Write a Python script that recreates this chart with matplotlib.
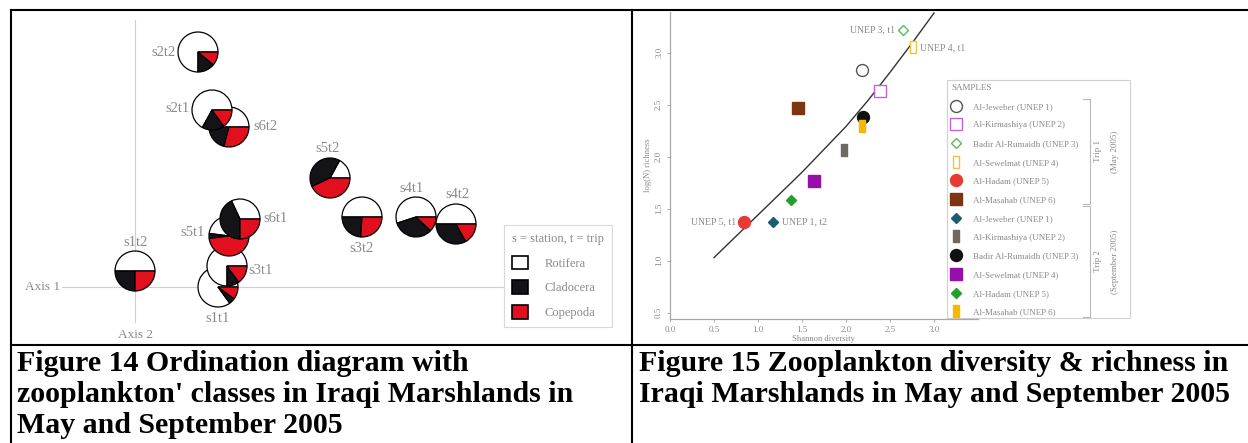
import numpy as np
import matplotlib.pyplot as plt
from matplotlib.patches import Patch, Rectangle

plt.rcParams['font.family'] = ['Liberation Serif', 'DejaVu Serif']

# Figure 14 - ordination scores and class fractions
samples = ['s1t1', 's1t2', 's2t1', 's2t2', 's3t1', 's3t2',
           's4t1', 's4t2', 's5t1', 's5t2', 's6t1', 's6t2']
axis1 = [0.83, 0.00, 0.77, 0.63, 0.92, 2.27, 2.81, 3.21, 0.94, 1.95, 1.05, 0.94]
axis2 = [0.00, 0.16, 1.77, 2.35, 0.21, 0.70, 0.70, 0.63, 0.51, 1.09, 0.68, 1.60]
rotifera = [0.85, 0.50, 0.67, 0.75, 0.75, 0.50, 0.55, 0.50, 0.48, 0.17, 0.32, 0.50]
cladocera = [0.05, 0.25, 0.18, 0.14, 0.10, 0.24, 0.33, 0.33, 0.04, 0.40, 0.43, 0.21]
copepoda = [0.10, 0.25, 0.15, 0.11, 0.15, 0.26, 0.12, 0.17, 0.48, 0.43, 0.25, 0.29]
classes = ['Rotifera', 'Cladocera', 'Copepoda']
# order the pies are stacked in (later ones on top)
draw_order = ['s1t1', 's1t2', 's6t2', 's2t1', 's2t2', 's3t1', 's3t2',
              's4t1', 's4t2', 's5t1', 's5t2', 's6t1']

# Figure 15 - diversity vs richness
sites = ['Al-Jeweber (UNEP 1)', 'Al-Kirmashiya (UNEP 2)', 'Badir Al-Rumaidh (UNEP 3)',
         'Al-Sewelmat (UNEP 4)', 'Al-Hadam (UNEP 5)', 'Al-Masahab (UNEP 6)']
shannon_t1 = [2.18, 2.39, 2.65, 2.76, 0.84, 1.45]
richness_t1 = [2.83, 2.63, 3.22, 3.05, 1.37, 2.47]
shannon_t2 = [1.17, 1.98, 2.19, 1.64, 1.37, 2.18]
richness_t2 = [1.37, 2.06, 2.38, 1.77, 1.58, 2.29]
fit_x = [0.5, 0.75, 1.0, 1.25, 1.5, 1.75, 2.0, 2.25, 2.5, 2.75, 3.0]
fit_y = [1.03, 1.235, 1.44, 1.645, 1.85, 2.07, 2.29, 2.54, 2.81, 3.09, 3.38]

caption14 = ['Figure 14 Ordination diagram with',
             "zooplankton' classes in Iraqi Marshlands in",
             'May and September 2005']
caption15 = ['Figure 15 Zooplankton diversity & richness in',
             'Iraqi Marshlands in May and September 2005']

grey = '#8a8a8a'
pie_cols = ['white', '#141418', '#e2101e']

fig = plt.figure(figsize=(12.48, 4.43), dpi=100)

# page axes in pixel units (table lines, captions)
page = fig.add_axes([0, 0, 1, 1])
page.set_xlim(0, 1248)
page.set_ylim(443, 0)
page.axis('off')
lw = 1.5
page.plot([11, 1248], [10, 10], color='black', lw=lw)
page.plot([11, 1248], [345, 345], color='black', lw=lw)
page.plot([11, 11], [10, 443], color='black', lw=lw)
page.plot([632, 632], [10, 443], color='black', lw=lw)
for i, s in enumerate(caption14):
    page.text(17, 371 + 31 * i, s, fontsize=21.5, fontweight='bold', va='baseline', ha='left')
for i, s in enumerate(caption15):
    page.text(639, 371 + 31 * i, s, fontsize=21.5, fontweight='bold', va='baseline', ha='left')

# ---- Figure 14 ----
ax1 = fig.add_axes([11 / 1248, (443 - 345) / 443, 621 / 1248, 335 / 443])
ax1.plot([-0.73, 3.69], [0, 0], color='#d0d0d0', lw=0.8, zorder=0)
ax1.plot([0, 0], [-0.35, 2.67], color='#d0d0d0', lw=0.8, zorder=0)
ax1.text(-0.75, 0, 'Axis 1', color=grey, fontsize=9.5, ha='right', va='center')
ax1.text(0, -0.48, 'Axis 2', color=grey, fontsize=9.5, ha='center', va='center')

lab_off = {'s1t1': (0, -31, 'center'), 's1t2': (0, 28, 'center'),
           's2t1': (-22, 1, 'right'), 's2t2': (-22, 0, 'right'),
           's3t1': (21, -4, 'left'), 's3t2': (0, -32, 'center'),
           's4t1': (-5, 29, 'center'), 's4t2': (1, 29, 'center'),
           's5t1': (-24, 3, 'right'), 's5t2': (-2, 29, 'center'),
           's6t1': (23, 0, 'left'), 's6t2': (24, 0, 'left')}

for name in draw_order:
    i = samples.index(name)
    ax1.pie([rotifera[i], cladocera[i], copepoda[i]], colors=pie_cols,
            center=(axis1[i], axis2[i]), radius=0.2, startangle=0,
            counterclock=True, frame=True,
            wedgeprops=dict(edgecolor='black', linewidth=0.9))
    dx, dy, ha = lab_off[name]
    ax1.annotate(name, (axis1[i], axis2[i]), xytext=(dx, dy), textcoords='offset pixels',
                 ha=ha, va='center', color=grey, fontsize=10.5)

ax1.set_xlim(-1.24, 4.97)
ax1.set_ylim(-0.58, 2.77)
ax1.set_aspect('auto')
ax1.axis('off')

h14 = [Patch(facecolor=c, edgecolor='black', linewidth=1.2) for c in pie_cols]
leg1 = ax1.legend(h14, classes, title='s = station, t = trip', loc='upper left',
                  bbox_to_anchor=(504, 225), bbox_transform=page.transData,
                  borderaxespad=0, fancybox=False, edgecolor='#d0d0d0',
                  fontsize=9, title_fontsize=9,
                  handlelength=1.3, handleheight=1.3, labelspacing=0.85,
                  handletextpad=1.3, borderpad=0.65, alignment='left', labelcolor=grey)
leg1.get_title().set_color(grey)
leg1.get_frame().set_linewidth(0.8)

# ---- Figure 15 ----
ax2 = fig.add_axes([670 / 1248, (443 - 319) / 443, 308 / 1248, 307 / 443])
ax2.set_facecolor('none')
ax2.plot(fit_x, fit_y, color='#333333', lw=1.0, zorder=1)

rect = [(-0.27, -0.5), (0.27, -0.5), (0.27, 0.5), (-0.27, 0.5), (-0.27, -0.5)]
marks = ['o', 's', 'D', rect, 'o', 's']
sizes_t1 = [8.6, 8.6, 5.2, 8.0, 8.6, 8.6]
cols_t1 = ['#555555', '#c064d4', '#5fb85f', '#f2c23a', '#e83a34', '#7b3510']
filled_t1 = [False, False, False, False, True, True]
marks_t2 = ['D', rect, 'o', 's', 'D', rect]
sizes_t2 = [5.2, 8.0, 8.6, 8.6, 5.2, 8.0]
cols_t2 = ['#1b5c72', '#716860', '#111111', '#9510a8', '#22a12a', '#f6b800']

handles = []
for i in range(6):
    fc = cols_t1[i] if filled_t1[i] else 'white'
    h, = ax2.plot(shannon_t1[i], richness_t1[i], linestyle='none', marker=marks[i],
                  markersize=sizes_t1[i], markerfacecolor=fc, markeredgecolor=cols_t1[i],
                  markeredgewidth=1.0, zorder=3)
    handles.append(h)
for i in range(6):
    h, = ax2.plot(shannon_t2[i], richness_t2[i], linestyle='none', marker=marks_t2[i],
                  markersize=sizes_t2[i], markerfacecolor=cols_t2[i],
                  markeredgecolor=cols_t2[i], markeredgewidth=1.0, zorder=3)
    handles.append(h)

notes = [('UNEP 3, t1', shannon_t1[2], richness_t1[2], -8, 'right'),
         ('UNEP 4, t1', shannon_t1[3], richness_t1[3], 7, 'left'),
         ('UNEP 5, t1', shannon_t1[4], richness_t1[4], -8, 'right'),
         ('UNEP 1, t2', shannon_t2[0], richness_t2[0], 9, 'left')]
for txt, x, y, dx, ha in notes:
    ax2.annotate(txt, (x, y), xytext=(dx, 0), textcoords='offset pixels',
                 ha=ha, va='center', color=grey, fontsize=7)

ax2.set_xlim(0, 3.5)
ax2.set_ylim(0.44, 3.39)
ax2.set_xticks([0.0, 0.5, 1.0, 1.5, 2.0, 2.5, 3.0])
ax2.set_yticks([0.5, 1.0, 1.5, 2.0, 2.5, 3.0])
ax2.set_xticklabels(['0.0', '0.5', '1.0', '1.5', '2.0', '2.5', '3.0'])
ax2.set_yticklabels(['0.5', '1.0', '1.5', '2.0', '2.5', '3.0'], rotation=90, va='center')
ax2.tick_params(colors='#a0a0a0', labelcolor=grey, labelsize=6.5, length=2.5, width=0.6, pad=2.5)
for sp in ['top', 'right']:
    ax2.spines[sp].set_visible(False)
for sp in ['left', 'bottom']:
    ax2.spines[sp].set_color('#a8a8a8')
    ax2.spines[sp].set_linewidth(0.9)
ax2.set_xlabel('Shannon diversity', color=grey, fontsize=6.2, labelpad=0.5)
ax2.set_ylabel('log(N) richness', color=grey, fontsize=6.2, labelpad=2.5)

leg2 = ax2.legend(handles, sites + sites, title='SAMPLES', loc='upper left',
                  bbox_to_anchor=(951, 84), bbox_transform=page.transData,
                  borderaxespad=0, frameon=False, fontsize=6.5, title_fontsize=6.5,
                  alignment='left', labelspacing=1.15, handletextpad=1.25,
                  handlelength=1.2, borderpad=0, labelcolor=grey)
leg2.get_title().set_color(grey)

# legend frame, trip brackets
page.add_patch(Rectangle((947, 80), 183, 238, fill=False, edgecolor='#d0d0d0', lw=0.8))
for y0, y1, t1, t2 in [(99, 204, 'Trip 1', '(May 2005)'),
                       (206, 317, 'Trip 2', '(September 2005)')]:
    page.plot([1083, 1090, 1090, 1083], [y0, y0, y1, y1], color='#b8b8b8', lw=0.8)
    page.text(1098, (y0 + y1) / 2, t1, rotation=90, ha='center', va='center',
              color=grey, fontsize=6.5)
    page.text(1115, (y0 + y1) / 2, t2, rotation=90, ha='center', va='center',
              color=grey, fontsize=6.5)

fig.savefig('out.png', dpi=100, facecolor='white')
